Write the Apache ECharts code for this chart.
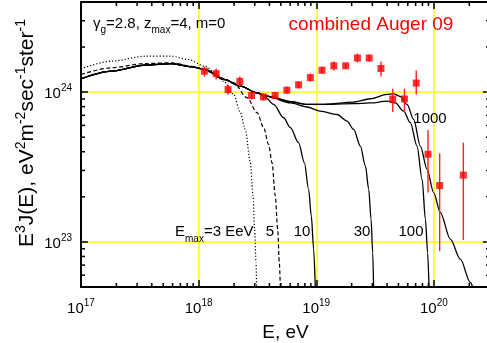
<!DOCTYPE html>
<html>
<head>
<meta charset="utf-8">
<script src="https://cdn.jsdelivr.net/npm/echarts@6/dist/echarts.min.js"></script>
<style>
html, body { margin: 0; padding: 0; background: #fff; }
#main { width: 487px; height: 343px; }
</style>
</head>
<body>
<div id="main"></div>
<script>
// combined Auger 09 spectrum, E [eV] and E^3 J(E) [eV^2 m^-2 sec^-1 ster^-1]
var augerE  = [1.12e18, 1.41e18, 1.78e18, 2.24e18, 2.82e18, 3.55e18, 4.47e18, 5.62e18, 7.08e18, 8.91e18,
               1.12e19, 1.41e19, 1.78e19, 2.24e19, 2.82e19, 3.55e19, 4.47e19, 5.62e19, 7.08e19, 8.91e19,
               1.12e20, 1.78e20];
var augerJ  = [1.38e24, 1.33e24, 1.04e24, 1.18e24, 0.95e24, 0.93e24, 0.95e24, 1.03e24, 1.12e24, 1.25e24,
               1.40e24, 1.50e24, 1.50e24, 1.69e24, 1.69e24, 1.44e24, 0.90e24, 0.90e24, 1.15e24, 3.85e23,
               2.38e23, 2.79e23];
var augerLo = [1.27e24, 1.215e24, 0.965e24, 1.09e24, 0.894e24, 0.88e24, 0.908e24, 0.98e24, 1.058e24, 1.178e24,
               1.332e24, 1.395e24, 1.439e24, 1.578e24, 1.602e24, 1.272e24, 0.736e24, 0.729e24, 0.965e24, 2.14e23,
               0.87e23, 1.03e23];
var augerHi = [1.48e24, 1.44e24, 1.126e24, 1.272e24, 1.011e24, 0.98e24, 0.995e24, 1.091e24, 1.178e24, 1.332e24,
               1.483e24, 1.602e24, 1.553e24, 1.811e24, 1.784e24, 1.602e24, 1.054e24, 1.054e24, 1.395e24, 5.58e23,
               3.90e23, 4.60e23];

// model curves, read as log10(E) and log10(E^3 J)
// low-energy part shared by the solid curves (Emax = 10, 30, 100, 1000 EeV)
var trunkLgE = [17.000, 17.260, 17.544, 17.770, 17.940, 18.057, 18.213, 18.355, 18.497];
var trunkLgJ = [24.089, 24.140, 24.180, 24.191, 24.169, 24.151, 24.085, 24.040, 23.996];
// part shared by Emax = 100 and 1000
var highLgE = [18.582, 18.638, 18.780, 18.922, 19.035];
var highLgJ = [23.973, 23.963, 23.936, 23.918, 23.918];

var e10LgE = [18.567, 18.638, 18.723, 18.780, 18.850, 18.899, 18.935, 18.958, 18.978, 18.992];
var e10LgJ = [23.965, 23.918, 23.829, 23.763, 23.663, 23.529, 23.351, 23.173, 22.951, 22.685];

var e30LgE = [18.582, 18.780, 18.922, 19.035, 19.177, 19.262, 19.318, 19.375, 19.418, 19.446, 19.466, 19.480, 19.488];
var e30LgJ = [23.973, 23.928, 23.901, 23.873, 23.851, 23.807, 23.751, 23.640, 23.507, 23.351, 23.151, 22.929, 22.685];

var e100LgE = [19.318, 19.460, 19.602, 19.673, 19.743, 19.800, 19.857, 19.900, 19.928, 19.947, 19.959];
var e100LgJ = [23.923, 23.928, 23.940, 23.928, 23.873, 23.796, 23.640, 23.418, 23.151, 22.929, 22.685];

var e1000LgE = [19.318, 19.460, 19.602, 19.658, 19.715, 19.772, 19.828, 19.885, 19.942, 19.998, 20.055, 20.140, 20.225, 20.310, 20.336];
var e1000LgJ = [23.933, 23.956, 23.985, 23.989, 23.971, 23.918, 23.818, 23.640, 23.485, 23.329, 23.196, 23.018, 22.885, 22.729, 22.684];

var e5LgE = [17.000, 17.260, 17.544, 17.770, 17.940, 18.099, 18.213, 18.298, 18.412, 18.497, 18.553, 18.595, 18.624, 18.652, 18.672, 18.686, 18.695];
var e5LgJ = [24.118, 24.163, 24.191, 24.196, 24.173, 24.135, 24.091, 24.063, 23.963, 23.863, 23.763, 23.651, 23.529, 23.307, 23.085, 22.863, 22.685];

var e3LgE = [17.000, 17.260, 17.544, 17.770, 17.912, 18.054, 18.142, 18.213, 18.298, 18.355, 18.397, 18.440, 18.463, 18.476, 18.488, 18.493];
var e3LgJ = [24.156, 24.207, 24.240, 24.240, 24.218, 24.173, 24.131, 24.073, 23.985, 23.863, 23.751, 23.529, 23.307, 23.085, 22.863, 22.685];

// axes
var xMin = 1e17, xMax = 3e20;
var yMin = 5e22, yMax = 4e24;
var minorMult = [2, 3, 4, 5, 6, 7, 8, 9];
var xDecades = [1e17, 1e18, 1e19, 1e20];
var yDecades = [1e22, 1e23, 1e24];

var FONT = 'Liberation Sans, Arial, sans-serif';

function toPairs(lgE, lgJ) {
  var res = [];
  for (var i = 0; i < lgE.length; i++) {
    res.push([Math.pow(10, lgE[i]), Math.pow(10, lgJ[i])]);
  }
  return res;
}
function joinCurve(parts) {
  var res = [];
  for (var i = 0; i < parts.length; i++) res = res.concat(parts[i]);
  return res;
}

var trunk = toPairs(trunkLgE, trunkLgJ);
var high = toPairs(highLgE, highLgJ);
var curve10 = joinCurve([trunk, toPairs(e10LgE, e10LgJ)]);
var curve30 = joinCurve([trunk, toPairs(e30LgE, e30LgJ)]);
var curve100 = joinCurve([trunk, high, toPairs(e100LgE, e100LgJ)]);
var curve1000 = joinCurve([trunk, high, toPairs(e1000LgE, e1000LgJ)]);
var curve5 = toPairs(e5LgE, e5LgJ);
var curve3 = toPairs(e3LgE, e3LgJ);

var points = [], bars = [];
for (var i = 0; i < augerE.length; i++) {
  points.push([augerE[i], augerJ[i]]);
  bars.push([augerE[i], augerLo[i], augerHi[i]]);
}

// minor tick positions (2..9 inside each decade)
var xMinor = [], yMinor = [];
xDecades.forEach(function (d) {
  minorMult.forEach(function (m) {
    var v = d * m;
    if (v > xMin && v < xMax) xMinor.push([v, 1e23]);
  });
});
yDecades.forEach(function (d) {
  minorMult.forEach(function (m) {
    var v = d * m;
    if (v > yMin && v < yMax) yMinor.push([1e18, v]);
  });
});

function powLabel(v) {
  var lg = Math.log10(v);
  var e = Math.round(lg);
  if (Math.abs(lg - e) > 1e-6) return '';
  return '{b|10}{s|' + e + '}';
}
var powRich = {
  b: { fontSize: 15, fontFamily: FONT, color: '#000', verticalAlign: 'bottom' },
  s: { fontSize: 10, fontFamily: FONT, color: '#000', verticalAlign: 'bottom', padding: [0, 0, 8, 0] }
};

function line(name, data, type, width) {
  return {
    name: name,
    type: 'line',
    data: data,
    showSymbol: false,
    smooth: 0.3,
    smoothMonotone: 'x',
    clip: true,
    silent: true,
    z: 3,
    lineStyle: { color: '#000', width: width, type: type }
  };
}

var chart = echarts.init(document.getElementById('main'));
var option = {
  animation: false,
  backgroundColor: '#fff',
  grid: { left: 81, top: 2, width: 409, height: 285, outerBoundsMode: 'none', containLabel: false },
  xAxis: [
    {
      type: 'log', logBase: 10, min: xMin, max: xMax,
      axisLine: { show: true, lineStyle: { color: '#000', width: 2 } },
      axisTick: { show: true, inside: true, length: 7, lineStyle: { color: '#000', width: 1.5 } },
      axisLabel: { formatter: powLabel, rich: powRich, margin: 11 },
      splitLine: { show: true, lineStyle: { color: '#ffff00', width: 1.5 } },
      name: 'E, eV', nameLocation: 'middle', nameGap: 36,
      nameTextStyle: { fontSize: 19, fontFamily: FONT, color: '#000' }
    },
    {
      type: 'log', logBase: 10, min: xMin, max: xMax, position: 'top',
      axisLine: { show: true, lineStyle: { color: '#000', width: 2 } },
      axisTick: { show: true, inside: true, length: 7, lineStyle: { color: '#000', width: 1.5 } },
      axisLabel: { show: false },
      splitLine: { show: false }
    }
  ],
  yAxis: [
    {
      type: 'log', logBase: 10, min: yMin, max: yMax,
      axisLine: { show: true, lineStyle: { color: '#000', width: 2 } },
      axisTick: { show: true, inside: true, length: 7, lineStyle: { color: '#000', width: 1.5 } },
      axisLabel: { formatter: powLabel, rich: powRich, margin: 9 },
      splitLine: { show: true, lineStyle: { color: '#ffff00', width: 1.5 } }
    },
    {
      type: 'log', logBase: 10, min: yMin, max: yMax, position: 'right',
      axisLine: { show: true, lineStyle: { color: '#000', width: 2 } },
      axisTick: { show: true, inside: true, length: 7, lineStyle: { color: '#000', width: 1.5 } },
      axisLabel: { show: false },
      splitLine: { show: false }
    }
  ],
  series: [
    line('Emax=3', curve3, [1.2, 2], 1.2),
    line('Emax=5', curve5, [4, 2.5], 1.2),
    line('Emax=10', curve10, 'solid', 1.3),
    line('Emax=30', curve30, 'solid', 1.3),
    line('Emax=100', curve100, 'solid', 1.3),
    line('Emax=1000', curve1000, 'solid', 1.3),
    {
      name: 'error bars',
      type: 'custom',
      data: bars,
      encode: { x: 0, y: [1, 2] },
      z: 4,
      silent: true,
      renderItem: function (params, api) {
        var lo = api.coord([api.value(0), api.value(1)]);
        var hi = api.coord([api.value(0), api.value(2)]);
        return {
          type: 'line',
          shape: { x1: lo[0], y1: lo[1], x2: hi[0], y2: hi[1] },
          style: { stroke: '#ff2020', lineWidth: 1.4 }
        };
      }
    },
    {
      name: 'combined Auger 09',
      type: 'scatter',
      data: points,
      symbol: 'rect',
      symbolSize: 7,
      z: 5,
      silent: true,
      itemStyle: { color: '#ff0000' }
    },
    {
      name: 'x minor ticks',
      type: 'custom',
      data: xMinor,
      z: 6,
      silent: true,
      clip: false,
      renderItem: function (params, api) {
        var cs = params.coordSys;
        var px = api.coord([api.value(0), api.value(1)])[0];
        var b = cs.y + cs.height;
        return {
          type: 'group',
          children: [
            { type: 'line', shape: { x1: px, y1: b, x2: px, y2: b - 4 }, style: { stroke: '#000', lineWidth: 1.5 } },
            { type: 'line', shape: { x1: px, y1: cs.y, x2: px, y2: cs.y + 4 }, style: { stroke: '#000', lineWidth: 1.5 } }
          ]
        };
      }
    },
    {
      name: 'y minor ticks',
      type: 'custom',
      data: yMinor,
      z: 6,
      silent: true,
      clip: false,
      renderItem: function (params, api) {
        var cs = params.coordSys;
        var py = api.coord([api.value(0), api.value(1)])[1];
        var r = cs.x + cs.width;
        return {
          type: 'group',
          children: [
            { type: 'line', shape: { x1: cs.x, y1: py, x2: cs.x + 4, y2: py }, style: { stroke: '#000', lineWidth: 1.5 } },
            { type: 'line', shape: { x1: r, y1: py, x2: r - 4, y2: py }, style: { stroke: '#000', lineWidth: 1.5 } }
          ]
        };
      }
    }
  ],
  graphic: [
    {
      type: 'text', x: 26, y: 133, rotation: Math.PI / 2, z: 10,
      style: {
        text: '{m|E}{p|3}{m|J(E), eV}{p|2}{m|m}{p|-2}{m|sec}{p|-1}{m|ster}{p|-1}',
        align: 'center', verticalAlign: 'middle',
        rich: {
          m: { fontSize: 21, fontFamily: FONT, fill: '#000', verticalAlign: 'bottom' },
          p: { fontSize: 14, fontFamily: FONT, fill: '#000', verticalAlign: 'bottom', padding: [0, 0, 9, 0] }
        }
      }
    },
    {
      type: 'text', x: 93, y: 26, z: 10,
      style: {
        text: '{m|γ}{d|g}{m|=2.8, z}{d|max}{m|=4, m=0}',
        align: 'left', verticalAlign: 'middle',
        rich: {
          m: { fontSize: 15, fontFamily: FONT, fill: '#000', verticalAlign: 'bottom', padding: [0, 0, 4, 0] },
          d: { fontSize: 10, fontFamily: FONT, fill: '#000', verticalAlign: 'bottom' }
        }
      }
    },
    {
      type: 'text', x: 371, y: 25, z: 10,
      style: { text: 'combined Auger 09', fontSize: 19, fontFamily: FONT, fill: '#ff0000', align: 'center', verticalAlign: 'middle' }
    },
    {
      type: 'text', x: 430, y: 119, z: 10,
      style: { text: '1000', fontSize: 15, fontFamily: FONT, fill: '#000', align: 'center', verticalAlign: 'middle' }
    },
    {
      type: 'text', x: 175, y: 234, z: 10,
      style: {
        text: '{m|E}{d|max}{m|=3 EeV}',
        align: 'left', verticalAlign: 'middle',
        rich: {
          m: { fontSize: 15, fontFamily: FONT, fill: '#000', verticalAlign: 'bottom', padding: [0, 0, 5, 0] },
          d: { fontSize: 10, fontFamily: FONT, fill: '#000', verticalAlign: 'bottom' }
        }
      }
    },
    { type: 'text', x: 270, y: 232, z: 10, style: { text: '5', fontSize: 15, fontFamily: FONT, fill: '#000', align: 'center', verticalAlign: 'middle' } },
    { type: 'text', x: 302, y: 232, z: 10, style: { text: '10', fontSize: 15, fontFamily: FONT, fill: '#000', align: 'center', verticalAlign: 'middle' } },
    { type: 'text', x: 362, y: 232, z: 10, style: { text: '30', fontSize: 15, fontFamily: FONT, fill: '#000', align: 'center', verticalAlign: 'middle' } },
    { type: 'text', x: 411, y: 232, z: 10, style: { text: '100', fontSize: 15, fontFamily: FONT, fill: '#000', align: 'center', verticalAlign: 'middle' } }
  ]
};
chart.setOption(option);
</script>
</body>
</html>
